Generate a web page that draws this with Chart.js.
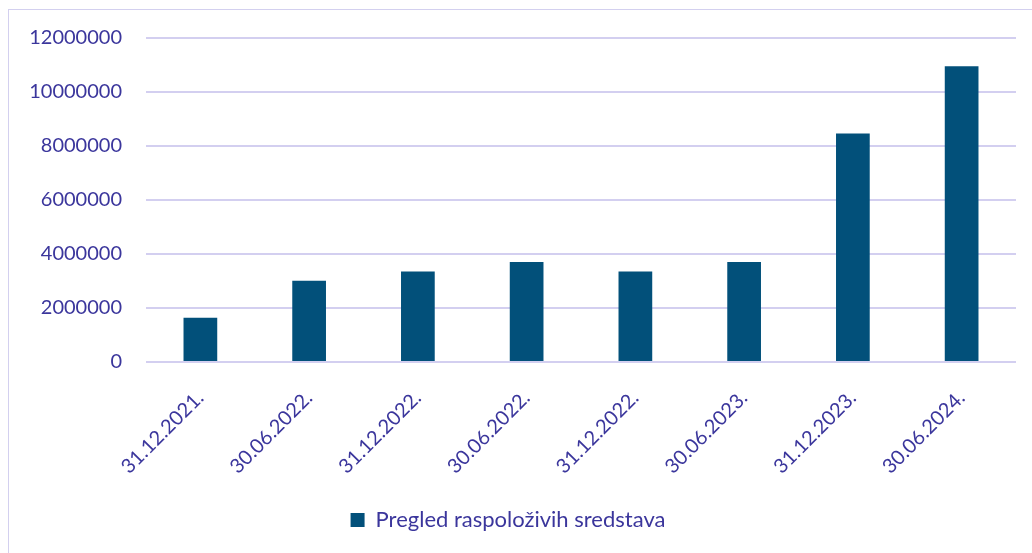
<!DOCTYPE html>
<html>
<head>
<meta charset="utf-8">
<script src="https://cdn.jsdelivr.net/npm/chart.js@4/dist/chart.umd.min.js"></script>
<style>
    html, body { margin: 0; padding: 0; background: #fff; overflow: hidden; }
    #wrap { position: relative; width: 1032px; height: 553px; }
    #frame {
        position: absolute; left: 8px; top: 9px; width: 1100px; height: 600px;
        border: 1.5px solid #d3d0ef; pointer-events: none;
    }
</style>
</head>
<body>
<div id="wrap">
    <canvas id="chart" width="1032" height="553"></canvas>
    <div id="frame"></div>
</div>
<script>
const labels = ['31.12.2021.', '30.06.2022.', '31.12.2022.', '30.06.2022.', '31.12.2022.', '30.06.2023.', '31.12.2023.', '30.06.2024.'];
const values = [1640000, 3010000, 3350000, 3700000, 3350000, 3700000, 8460000, 10950000];
const seriesName = 'Pregled raspoloživih sredstava';
const yTicks = [0, 2000000, 4000000, 6000000, 8000000, 10000000, 12000000];

const textColor = '#3b369c';
const barColor = '#02507a';
const gridColor = '#d3cff0';

function renderChart() {
    const ctx = document.getElementById('chart').getContext('2d');
    const chart = new Chart(ctx, {
        type: 'bar',
        data: {
            labels: labels,
            datasets: [
                {
                    label: seriesName,
                    data: values,
                    backgroundColor: barColor,
                    barPercentage: 0.31,
                    categoryPercentage: 1
                }
            ]
        },
        options: {
            responsive: false,
            animation: false,
            layout: { padding: { left: 0, right: 16, top: 38, bottom: 12 } },
            font: { family: 'Lato' },
            plugins: {
                tooltip: { enabled: false },
                legend: {
                    position: 'bottom',
                    labels: {
                        color: textColor,
                        font: { family: 'Lato', size: 22 },
                        boxWidth: 14,
                        boxHeight: 14,
                        padding: 9
                    }
                }
            },
            scales: {
                x: {
                    afterFit: function (scale) { scale.height = 138; },
                    grid: { display: false },
                    border: { display: false },
                    ticks: {
                        color: textColor,
                        font: { family: 'Lato', size: 20 },
                        minRotation: 45,
                        maxRotation: 45,
                        padding: 16
                    }
                },
                y: {
                    min: 0,
                    max: 12000000,
                    afterFit: function (scale) { scale.width = 146; },
                    afterBuildTicks: function (scale) {
                        scale.ticks = yTicks.map(v => ({ value: v }));
                    },
                    grid: { color: gridColor, lineWidth: 2, drawTicks: false },
                    border: { display: false },
                    ticks: {
                        color: textColor,
                        font: { family: 'Lato', size: 20 },
                        padding: 24,
                        callback: v => String(v)
                    }
                }
            }
        }
    })
}

renderChart()
</script>
</body>
</html>
